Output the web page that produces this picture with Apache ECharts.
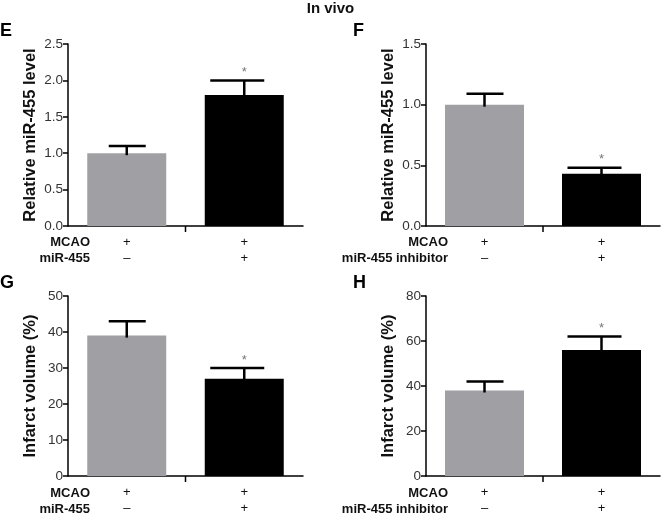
<!DOCTYPE html>
<html>
<head>
<meta charset="utf-8">
<script src="https://cdn.jsdelivr.net/npm/echarts@6/dist/echarts.min.js"></script>
<style>
  html, body { margin: 0; padding: 0; background: #fff; }
  #chart { width: 661px; height: 516px; }
</style>
</head>
<body>
<div id="chart"></div>
<script>
// ---------- data ----------
const chartTitle = 'In vivo';
const panelLetters = ['E', 'F', 'G', 'H'];
const yAxisNames = ['Relative miR-455 level', 'Relative miR-455 level', 'Infarct volume (%)', 'Infarct volume (%)'];
const categories = ['Control', 'Treated'];
const rowNamesE = ['MCAO', 'miR-455'];
const rowNamesF = ['MCAO', 'miR-455 inhibitor'];
const rowNamesG = ['MCAO', 'miR-455'];
const rowNamesH = ['MCAO', 'miR-455 inhibitor'];
const mcaoSigns = ['+', '+'];
const treatSigns = ['\u2013', '+'];
const meanE = [1.0, 1.8];
const upperE = [1.1, 2.0];
const meanF = [1.0, 0.43];
const upperF = [1.09, 0.48];
const meanG = [39, 27];
const upperG = [43, 30];
const meanH = [38, 56];
const upperH = [42, 62];
const sigMarks = ['', '*'];
const yMaxes = [2.5, 1.5, 50, 80];
const yIntervals = [0.5, 0.5, 10, 20];
const yDecimals = [1, 1, 0, 0];

// ---------- layout / style ----------
const FONT = "'Liberation Sans', Arial, sans-serif";
const barColors = ['#a0a0a4', '#000000'];
const capOffsets = [[-18, 19], [-34, 20]];
const grids = [
  { left: 68, top: 44, width: 235, height: 182 },
  { left: 426, top: 44, width: 234, height: 182 },
  { left: 68, top: 296, width: 235, height: 181 },
  { left: 426, top: 296, width: 234, height: 181 }
];
const means = [meanE, meanF, meanG, meanH];
const uppers = [upperE, upperF, upperG, upperH];
const rowNames = [rowNamesE, rowNamesF, rowNamesG, rowNamesH];

const xAxes = [], yAxes = [], series = [], graphics = [];

graphics.push({
  type: 'text', left: 'center', top: 1,
  style: { text: chartTitle, font: 'bold 15px ' + FONT, fill: '#111' }
});

grids.forEach((g, k) => {
  xAxes.push({
    type: 'category', gridIndex: k, data: categories,
    axisLine: { lineStyle: { color: '#000', width: 1.5 } },
    axisTick: { show: false },
    axisLabel: {
      margin: 8,
      lineHeight: 16,
      fontFamily: FONT, fontSize: 13, color: '#111',
      formatter: (v, i) => mcaoSigns[i] + '\n' + treatSigns[i]
    }
  });
  yAxes.push({
    type: 'value', gridIndex: k, min: 0, max: yMaxes[k], interval: yIntervals[k],
    name: yAxisNames[k], nameLocation: 'middle', nameGap: 29,
    nameTextStyle: { fontFamily: FONT, fontSize: 16.5, fontWeight: 'bold', color: '#111' },
    axisLine: { show: true, lineStyle: { color: '#000', width: 1.5 } },
    axisTick: { show: true, length: 5, lineStyle: { color: '#000', width: 1.5 } },
    axisLabel: {
      margin: 5, fontFamily: FONT, fontSize: 13.5, color: '#333',
      formatter: v => v.toFixed(yDecimals[k])
    },
    splitLine: { show: false }
  });
  series.push({
    type: 'bar', xAxisIndex: k, yAxisIndex: k, barWidth: 79,
    data: means[k].map((v, i) => ({ value: v, itemStyle: { color: barColors[i] } })),
    silent: true, z: 2
  });
  series.push({
    type: 'custom', xAxisIndex: k, yAxisIndex: k, z: 3, silent: true,
    data: means[k].map((v, i) => [i, uppers[k][i], v, sigMarks[i]]),
    encode: { x: 0, y: 1 },
    renderItem: (params, api) => {
      const i = api.value(0);
      const top = api.coord([i, api.value(1)]);
      const base = api.coord([i, api.value(2)]);
      const zero = api.coord([i, 0]);
      const band = api.size([1, 0])[0];
      const off = capOffsets[i];
      const children = [
        { type: 'line', shape: { x1: top[0], y1: base[1] + 2, x2: top[0], y2: top[1] },
          style: { stroke: barColors[1], lineWidth: 2.5 } },
        { type: 'line', shape: { x1: top[0] + off[0], y1: top[1], x2: top[0] + off[1], y2: top[1] },
          style: { stroke: barColors[1], lineWidth: 2.5 } }
      ];
      const sig = sigMarks[i];
      if (sig) {
        children.push({ type: 'text', x: top[0], y: top[1] - 8,
          style: { text: sig, font: '13px ' + FONT, fill: '#777', align: 'center', verticalAlign: 'middle' } });
      }
      if (i === 0) {
        const tx = zero[0] + band / 2;
        children.push({ type: 'line', shape: { x1: tx, y1: zero[1], x2: tx, y2: zero[1] + 6 },
          style: { stroke: '#000', lineWidth: 1.5 } });
      }
      return { type: 'group', children };
    }
  });
  // panel letter
  graphics.push({
    type: 'text', left: k % 2 === 0 ? 0 : 353, top: g.top - 22,
    style: { text: panelLetters[k], font: 'bold 18px ' + FONT, fill: '#000' }
  });
  // row labels
  rowNames[k].forEach((name, r) => {
    graphics.push({
      type: 'text', x: g.left + 22, y: g.top + g.height + 16 + r * 16,
      style: { text: name, font: 'bold 13px ' + FONT, fill: '#111', align: 'right', verticalAlign: 'middle' }
    });
  });
});

const chart = echarts.init(document.getElementById('chart'), null, { renderer: 'canvas' });
chart.setOption({
  animation: false,
  backgroundColor: '#fff',
  grid: grids,
  xAxis: xAxes,
  yAxis: yAxes,
  series: series,
  graphic: graphics
});
</script>
</body>
</html>
